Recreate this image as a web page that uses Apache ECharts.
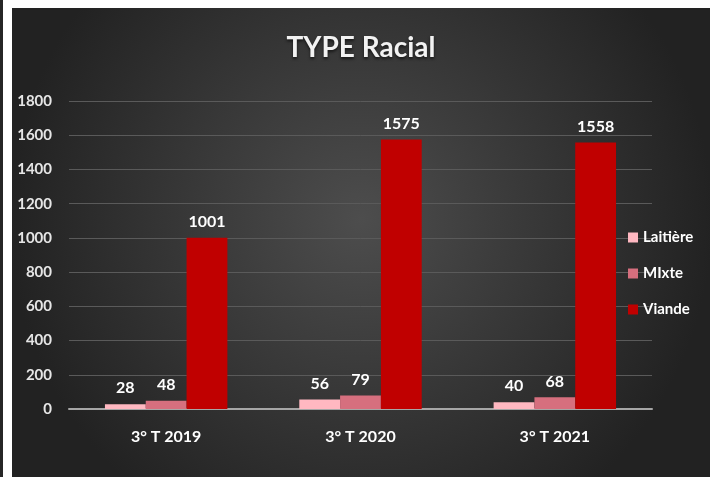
<!DOCTYPE html>
<html>
<head>
<meta charset="utf-8">
<script src="https://cdn.jsdelivr.net/npm/echarts@6/dist/echarts.min.js"></script>
<style>
    html, body { margin: 0; padding: 0; background: #fff; width: 710px; height: 477px; overflow: hidden; }
    .edge { position: absolute; left: 0; top: 0; width: 3px; height: 477px; background: #262626; }
    #main { position: absolute; left: 12px; top: 8px; width: 698px; height: 469px; }
</style>
</head>
<body>
<div class="edge"></div>
<div id="main"></div>
<script>
const categories = ['3° T 2019', '3° T 2020', '3° T 2021']
const laitiere = [28, 56, 40]
const mixte = [48, 79, 68]
const viande = [1001, 1575, 1558]
const seriesNames = ['Laitière', 'MIxte', 'Viande']
const colors = ['#ffb8c1', '#d66f7e', '#c00000']

const font = 'Lato, "Open Sans", sans-serif'
const chart = echarts.init(document.getElementById('main'))

const makeSeries = (name, data, i) => ({
    name: name,
    type: 'bar',
    data: data,
    barGap: 0,
    barCategoryGap: '37%',
    itemStyle: { color: colors[i] },
    label: {
        show: true,
        position: 'top',
        distance: 8,
        color: '#fff',
        fontWeight: 'bold',
        fontSize: 16,
        fontFamily: font,
    },
})

chart.setOption({
    backgroundColor: {
        type: 'radial',
        x: 0.5, y: 0.45, r: 0.75,
        colorStops: [
            { offset: 0, color: '#4d4d4d' },
            { offset: 1, color: '#222222' },
        ],
    },
    title: {
        text: 'TYPE Racial',
        left: 'center',
        top: 21,
        textStyle: {
            color: '#f2f2f2',
            fontSize: 28,
            fontWeight: 'bold',
            fontFamily: font,
            textShadowColor: 'rgba(0,0,0,0.6)',
            textShadowBlur: 3,
            textShadowOffsetY: 2,
        },
    },
    legend: {
        orient: 'vertical',
        left: 611,
        top: 217,
        itemWidth: 10,
        itemHeight: 10,
        itemGap: 21,
        icon: 'rect',
        textStyle: { color: '#fff', fontSize: 15, fontWeight: 'bold', fontFamily: font },
        data: seriesNames,
    },
    grid: { left: 57, right: 58, top: 93, bottom: 68, containLabel: false },
    xAxis: {
        type: 'category',
        data: categories,
        axisLine: { lineStyle: { color: '#a6a6a6', width: 2 } },
        axisTick: { show: false },
        axisLabel: { color: '#fff', fontSize: 16, fontWeight: 'bold', fontFamily: font, margin: 20 },
    },
    yAxis: {
        type: 'value',
        min: 0,
        max: 1800,
        interval: 200,
        axisLine: { show: false },
        axisTick: { show: false },
        splitLine: { lineStyle: { color: '#5a5a5a', width: 1 } },
        axisLabel: {
            color: '#e6e6e6',
            fontSize: 15,
            fontWeight: 'bold',
            fontFamily: font,
            margin: 17,
            formatter: (v) => String(v),
        },
    },
    series: [
        makeSeries(seriesNames[0], laitiere, 0),
        makeSeries(seriesNames[1], mixte, 1),
        makeSeries(seriesNames[2], viande, 2),
    ],
})
</script>
</body>
</html>
